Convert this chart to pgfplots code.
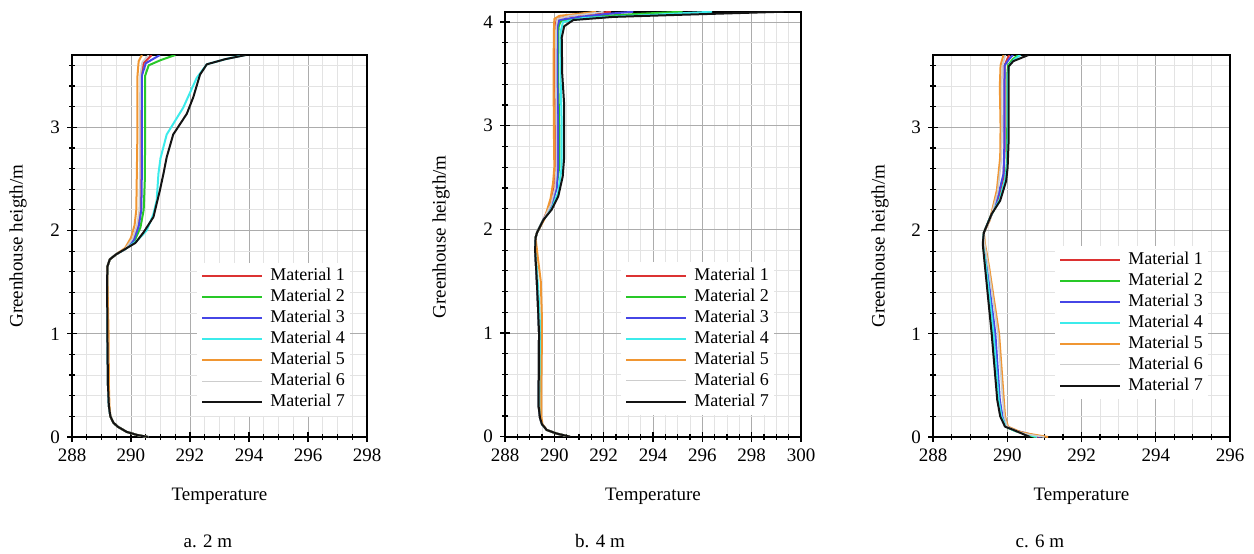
\documentclass[border=0pt]{standalone}
\usepackage{fontspec}
\setmainfont{Liberation Serif}
\usepackage{pgfplots}
\pgfplotsset{compat=1.18}

\definecolor{m1}{RGB}{220,50,50}
\definecolor{m2}{RGB}{40,200,40}
\definecolor{m3}{RGB}{70,70,230}
\definecolor{m4}{RGB}{60,235,235}
\definecolor{m5}{RGB}{240,150,50}
\definecolor{m6}{RGB}{205,205,205}
\definecolor{m7}{RGB}{20,20,20}

\pgfplotsset{
  panel/.style={
    scale only axis,
    ymin=0,
    ytick={0,1,2,3,4},
    minor x tick num=3,
    minor y tick num=4,
    grid=both,
    major grid style={gray!65, line width=0.45pt},
    minor grid style={gray!22, line width=0.4pt},
    axis line style={black, line width=0.9pt},
    tick align=center,
    xtick pos=bottom, ytick pos=left,
    major tick length=5pt, minor tick length=3pt,
    tick style={black, line width=0.6pt},
    /pgf/number format/assume math mode=true,
    ticklabel style={font=\fontsize{9.5}{11}\selectfont},
    label style={font=\fontsize{9.5}{11}\selectfont},
    xlabel={Temperature},
    ylabel={Greenhouse heigth/m},
    every axis plot/.append style={line width=1pt, line join=round},
    legend cell align=left,
    legend image code/.code={\draw[##1] (0pt,0pt) -- (30pt,0pt);},
    legend style={fill=white, draw=none, inner sep=2pt,
      font=\fontsize{9}{10}\selectfont,
      nodes={inner sep=0.5pt, text height=6.5pt, text depth=2pt},
      row sep=1pt,
      /tikz/every odd column/.append style={column sep=3pt}},
  }
}

\begin{document}
\begin{tikzpicture}
\useasboundingbox (0,0) rectangle (627pt,276.5pt);

% ---------------- a. 2 m
\begin{axis}[panel, at={(36pt,58pt)}, anchor=south west,
  width=147.5pt, height=191pt,
  xmin=288, xmax=298, ymax=3.7, xtick={288,290,...,298},
  xlabel style={at={(axis description cs:0.5,-0.154)}, anchor=center},
  ylabel style={at={(axis description cs:-0.183,0.5)}, anchor=center},
  legend style={at={(0.424,0.457)}, anchor=north west}]
\addplot[m1] coordinates {(290.58,0) (290.2,0.02) (289.85,0.05) (289.55,0.1) (289.4,0.14) (289.3,0.2) (289.25,0.3) (289.22,0.5) (289.2,1.0) (289.19,1.5) (289.2,1.65) (289.28,1.72) (289.5,1.77) (289.8,1.82) (290.08,1.91) (290.24,2.04) (290.32,2.2) (290.34,2.6) (290.34,3.0) (290.34,3.5) (290.42,3.62) (290.7,3.7)};
\addlegendentry{Material 1}
\addplot[m2] coordinates {(290.58,0) (290.2,0.02) (289.85,0.05) (289.55,0.1) (289.4,0.14) (289.3,0.2) (289.25,0.3) (289.22,0.5) (289.2,1.0) (289.19,1.5) (289.2,1.65) (289.28,1.72) (289.5,1.77) (289.8,1.82) (290.12,1.9) (290.32,2.03) (290.43,2.2) (290.47,2.5) (290.48,3.0) (290.48,3.5) (290.6,3.6) (291.0,3.65) (291.5,3.7)};
\addlegendentry{Material 2}
\addplot[m3] coordinates {(290.58,0) (290.2,0.02) (289.85,0.05) (289.55,0.1) (289.4,0.14) (289.3,0.2) (289.25,0.3) (289.22,0.5) (289.2,1.0) (289.19,1.5) (289.2,1.65) (289.28,1.72) (289.5,1.77) (289.8,1.82) (290.1,1.91) (290.26,2.04) (290.35,2.2) (290.37,2.6) (290.37,3.0) (290.37,3.5) (290.5,3.62) (290.98,3.7)};
\addlegendentry{Material 3}
\addplot[m4] coordinates {(290.58,0) (290.2,0.02) (289.85,0.05) (289.55,0.1) (289.4,0.14) (289.3,0.2) (289.25,0.3) (289.22,0.5) (289.2,1.0) (289.19,1.5) (289.2,1.65) (289.28,1.72) (289.5,1.77) (289.8,1.82) (290.2,1.9) (290.53,2.0) (290.75,2.15) (290.87,2.29) (290.93,2.55) (291.0,2.7) (291.21,2.93) (291.77,3.19) (292.23,3.48) (292.57,3.61) (293.2,3.66) (293.86,3.7)};
\addlegendentry{Material 4}
\addplot[m5] coordinates {(290.58,0) (290.2,0.02) (289.85,0.05) (289.55,0.1) (289.4,0.14) (289.3,0.2) (289.27,0.3) (289.25,0.5) (289.24,1.0) (289.2,1.5) (289.2,1.65) (289.28,1.72) (289.5,1.77) (289.8,1.83) (290.0,1.93) (290.12,2.05) (290.18,2.2) (290.2,2.6) (290.22,3.0) (290.22,3.5) (290.26,3.64) (290.37,3.7)};
\addlegendentry{Material 5}
\addplot[m6, line width=0.8pt] coordinates {(290.58,0) (290.2,0.02) (289.85,0.05) (289.55,0.1) (289.4,0.14) (289.3,0.2) (289.25,0.3) (289.22,0.5) (289.2,1.0) (289.19,1.5) (289.2,1.65) (289.28,1.72) (289.5,1.77) (289.8,1.82) (290.05,1.92) (290.2,2.05) (290.28,2.2) (290.3,2.6) (290.3,3.0) (290.31,3.5) (290.38,3.63) (290.6,3.7)};
\addlegendentry{Material 6}
\addplot[m7] coordinates {(290.58,0) (290.2,0.02) (289.85,0.05) (289.55,0.1) (289.4,0.14) (289.3,0.2) (289.25,0.3) (289.22,0.5) (289.2,1.0) (289.19,1.5) (289.2,1.65) (289.28,1.72) (289.5,1.77) (289.8,1.82) (290.15,1.88) (290.42,1.98) (290.76,2.13) (290.98,2.39) (291.1,2.55) (291.21,2.71) (291.43,2.93) (291.89,3.13) (292.11,3.29) (292.34,3.51) (292.57,3.61) (293.2,3.66) (293.9,3.7)};
\addlegendentry{Material 7}
\end{axis}

% ---------------- b. 4 m
\begin{axis}[panel, at={(252.5pt,58.15pt)}, anchor=south west,
  width=148pt, height=212.5pt,
  xmin=288, xmax=300, ymax=4.1, xtick={288,290,...,300},
  xlabel style={at={(axis description cs:0.5,-0.14)}, anchor=center},
  ylabel style={at={(axis description cs:-0.216,0.47)}, anchor=center},
  legend style={at={(0.392,0.412)}, anchor=north west}]
\addplot[m1] coordinates {(290.63,0) (290.1,0.03) (289.69,0.065) (289.5,0.12) (289.42,0.18) (289.36,0.3) (289.37,0.6) (289.38,1.0) (289.33,1.3) (289.28,1.55) (289.22,1.8) (289.24,1.92) (289.3,1.97) (289.55,2.09) (289.85,2.25) (290.0,2.4) (290.05,2.6) (290.05,3.0) (290.03,3.5) (290.04,3.95) (290.1,4.03) (290.6,4.06) (291.5,4.08) (292.3,4.1)};
\addlegendentry{Material 1}
\addplot[m2] coordinates {(290.63,0) (290.1,0.03) (289.69,0.065) (289.5,0.12) (289.42,0.18) (289.36,0.3) (289.37,0.6) (289.38,1.0) (289.33,1.3) (289.28,1.55) (289.22,1.8) (289.24,1.92) (289.3,1.97) (289.55,2.09) (289.88,2.22) (290.08,2.4) (290.2,2.6) (290.2,3.0) (290.15,3.5) (290.17,3.95) (290.25,4.01) (291.2,4.05) (293.5,4.08) (295.2,4.1)};
\addlegendentry{Material 2}
\addplot[m3] coordinates {(290.63,0) (290.1,0.03) (289.69,0.065) (289.5,0.12) (289.42,0.18) (289.36,0.3) (289.37,0.6) (289.38,1.0) (289.33,1.3) (289.28,1.55) (289.22,1.8) (289.24,1.92) (289.3,1.97) (289.55,2.09) (289.87,2.23) (290.1,2.4) (290.15,2.6) (290.15,3.0) (290.12,3.5) (290.12,3.95) (290.2,4.02) (291.0,4.05) (292.2,4.08) (293.2,4.1)};
\addlegendentry{Material 3}
\addplot[m4] coordinates {(290.63,0) (290.1,0.03) (289.69,0.065) (289.5,0.12) (289.44,0.18) (289.4,0.3) (289.42,0.6) (289.43,1.0) (289.38,1.3) (289.31,1.55) (289.23,1.8) (289.24,1.92) (289.3,1.97) (289.55,2.09) (289.89,2.2) (290.15,2.35) (290.3,2.6) (290.3,3.0) (290.25,3.5) (290.25,3.9) (290.35,4.0) (291.2,4.04) (294.0,4.07) (296.4,4.1)};
\addlegendentry{Material 4}
\addplot[m5] coordinates {(290.63,0) (290.1,0.03) (289.69,0.065) (289.52,0.12) (289.47,0.2) (289.47,0.4) (289.49,0.8) (289.49,1.2) (289.45,1.5) (289.32,1.75) (289.24,1.92) (289.3,1.97) (289.6,2.1) (289.85,2.3) (289.95,2.45) (290.0,2.6) (289.98,3.0) (289.97,3.5) (289.98,3.9) (290.0,4.03) (290.2,4.06) (291.0,4.08) (291.7,4.1)};
\addlegendentry{Material 5}
\addplot[m6, line width=0.8pt] coordinates {(290.63,0) (290.1,0.03) (289.69,0.065) (289.5,0.12) (289.42,0.18) (289.36,0.3) (289.37,0.6) (289.38,1.0) (289.33,1.3) (289.28,1.55) (289.22,1.8) (289.24,1.92) (289.3,1.97) (289.55,2.09) (289.86,2.24) (290.03,2.4) (290.08,2.6) (290.08,3.0) (290.06,3.5) (290.07,3.95) (290.12,4.03) (290.6,4.06) (291.4,4.08) (292.0,4.1)};
\addlegendentry{Material 6}
\addplot[m7] coordinates {(290.63,0) (290.1,0.03) (289.69,0.065) (289.5,0.12) (289.42,0.18) (289.36,0.3) (289.37,0.6) (289.38,1.0) (289.33,1.3) (289.28,1.55) (289.22,1.8) (289.24,1.92) (289.3,1.97) (289.55,2.09) (289.89,2.19) (290.16,2.32) (290.34,2.51) (290.4,2.7) (290.4,3.2) (290.32,3.5) (290.3,3.85) (290.4,3.96) (290.77,4.02) (292.39,4.05) (295.09,4.07) (299.3,4.1)};
\addlegendentry{Material 7}
\end{axis}

% ---------------- c. 6 m
\begin{axis}[panel, at={(466.5pt,58pt)}, anchor=south west,
  width=148.5pt, height=191pt,
  xmin=288, xmax=296, ymax=3.7, xtick={288,290,...,296},
  xlabel style={at={(axis description cs:0.5,-0.154)}, anchor=center},
  ylabel style={at={(axis description cs:-0.178,0.5)}, anchor=center},
  legend style={at={(0.411,0.501)}, anchor=north west}]
\addplot[m1] coordinates {(290.85,0) (290.22,0.06) (289.98,0.1) (289.85,0.2) (289.78,0.36) (289.65,1.0) (289.44,1.65) (289.35,1.87) (289.37,1.98) (289.56,2.14) (289.76,2.32) (289.9,2.52) (289.93,2.8) (289.93,3.3) (289.93,3.6) (290.0,3.66) (290.05,3.7)};
\addlegendentry{Material 1}
\addplot[m2] coordinates {(290.75,0) (290.2,0.06) (289.96,0.1) (289.83,0.2) (289.75,0.36) (289.61,1.0) (289.42,1.65) (289.35,1.87) (289.37,1.98) (289.58,2.16) (289.8,2.3) (289.95,2.5) (289.99,2.65) (290.0,3.0) (290.0,3.5) (290.02,3.6) (290.15,3.66) (290.3,3.7)};
\addlegendentry{Material 2}
\addplot[m3] coordinates {(290.9,0) (290.25,0.06) (290.0,0.1) (289.87,0.2) (289.8,0.36) (289.68,1.0) (289.45,1.65) (289.36,1.87) (289.37,1.98) (289.55,2.13) (289.75,2.33) (289.9,2.55) (289.92,2.8) (289.92,3.3) (289.93,3.6) (290.05,3.66) (290.15,3.7)};
\addlegendentry{Material 3}
\addplot[m4] coordinates {(290.8,0) (290.2,0.06) (289.97,0.1) (289.84,0.2) (289.77,0.36) (289.63,1.0) (289.43,1.65) (289.35,1.87) (289.37,1.98) (289.58,2.16) (289.8,2.3) (289.95,2.5) (290.0,2.65) (290.02,3.0) (290.02,3.5) (290.05,3.6) (290.2,3.66) (290.35,3.7)};
\addlegendentry{Material 4}
\addplot[m5] coordinates {(291.1,0) (290.6,0.03) (290.34,0.05) (290.02,0.1) (289.94,0.2) (289.9,0.4) (289.78,1.0) (289.51,1.65) (289.4,1.87) (289.37,1.98) (289.53,2.1) (289.72,2.39) (289.81,2.71) (289.82,3.0) (289.8,3.4) (289.82,3.6) (289.9,3.7)};
\addlegendentry{Material 5}
\addplot[m6, line width=0.8pt] coordinates {(291.0,0) (290.5,0.03) (290.3,0.05) (290.0,0.1) (289.92,0.2) (289.87,0.4) (289.75,1.0) (289.49,1.65) (289.39,1.87) (289.37,1.98) (289.54,2.11) (289.74,2.37) (289.84,2.68) (289.86,3.0) (289.85,3.4) (289.87,3.6) (289.95,3.7)};
\addlegendentry{Material 6}
\addplot[m7] coordinates {(290.61,0) (290.16,0.07) (289.94,0.1) (289.81,0.2) (289.73,0.36) (289.58,1.0) (289.4,1.65) (289.34,1.87) (289.37,1.98) (289.58,2.16) (289.81,2.29) (289.97,2.48) (290.01,2.61) (290.04,2.9) (290.04,3.3) (290.04,3.59) (290.16,3.64) (290.57,3.7)};
\addlegendentry{Material 7}
\end{axis}

\node[font=\fontsize{9.5}{11}\selectfont] at (104pt,6pt) {a. 2 m};
\node[font=\fontsize{9.5}{11}\selectfont] at (300pt,6pt) {b. 4 m};
\node[font=\fontsize{9.5}{11}\selectfont] at (520pt,6pt) {c. 6 m};
\end{tikzpicture}
\end{document}
